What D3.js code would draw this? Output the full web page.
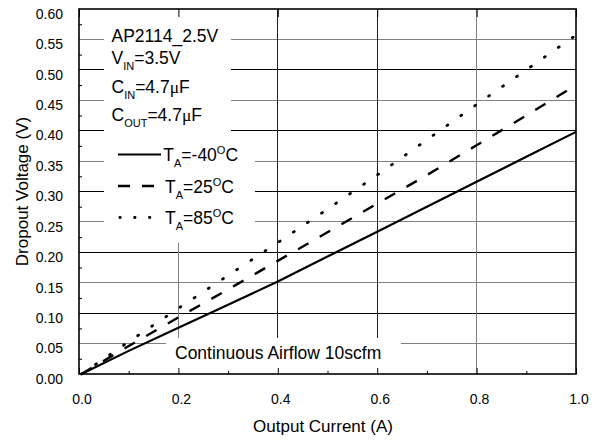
<!DOCTYPE html>
<html>
<head>
<meta charset="utf-8">
<script src="https://cdn.jsdelivr.net/npm/d3@7"></script>
<style>
  body { margin: 0; background: #fff; }
  svg { display: block; }
  text { font-family: "Liberation Sans", Arial, Helvetica, sans-serif; fill: #000; }
</style>
</head>
<body>
<svg id="chart" width="597" height="441"></svg>
<script>
// Output current (A) at which dropout voltage was measured
const current = [0.005, 0.1, 0.2, 0.3, 0.4, 0.5, 0.6, 0.7, 0.8, 0.9, 1.0];
// Dropout voltage (V) per ambient temperature
const dropoutMinus40 = [0.0, 0.038, 0.076, 0.114, 0.152, 0.193, 0.234, 0.275, 0.316, 0.357, 0.398];
const dropout25      = [0.0, 0.046, 0.093, 0.139, 0.186, 0.233, 0.280, 0.327, 0.376, 0.425, 0.475];
const dropout85      = [0.0, 0.053, 0.108, 0.162, 0.216, 0.271, 0.327, 0.385, 0.443, 0.500, 0.557];
const temperatures   = ["-40", "25", "85"];

const xTickValues = [0, 0.2, 0.4, 0.6, 0.8, 1.0];
const xMinorTicks = [0.1, 0.3, 0.5, 0.7, 0.9];
const yTickValues = [0, 0.05, 0.10, 0.15, 0.20, 0.25, 0.30, 0.35, 0.40, 0.45, 0.50, 0.55, 0.60];
const yMinorTicks = [0.025, 0.075, 0.125, 0.175, 0.225, 0.275, 0.325, 0.375, 0.425, 0.475, 0.525, 0.575];

const svg = d3.select("#chart");
const L = 79, R = 576, T = 9, B = 374;

const x = d3.scaleLinear().domain([0, 1.0]).range([L, R]);
const y = d3.scaleLinear().domain([0, 0.6]).range([B, T]);

// ---- grid ----
const grid = svg.append("g").attr("shape-rendering", "crispEdges");
grid.selectAll("line.h")
  .data(yTickValues.filter(v => v > 0 && v < 0.6))
  .join("line")
  .attr("x1", L).attr("x2", R)
  .attr("y1", d => y(d)).attr("y2", d => y(d))
  .attr("stroke", d => Math.round(d * 20) % 2 === 0 ? "#000" : "#808080")
  .attr("stroke-width", 1);
grid.selectAll("line.v")
  .data(xTickValues.filter(v => v > 0 && v < 1))
  .join("line")
  .attr("y1", T).attr("y2", B)
  .attr("x1", d => x(d)).attr("x2", d => x(d))
  .attr("stroke", d => (d > 0.3 && d < 0.7) ? "#222" : "#808080")
  .attr("stroke-width", 1);

// white panels behind the text blocks
const panels = svg.append("g").attr("fill", "#fff");
panels.append("rect").attr("x", 104).attr("y", T + 1).attr("width", 127).attr("height", 136);
panels.append("rect").attr("x", 104).attr("y", 140).attr("width", 151).attr("height", 103);
panels.append("rect").attr("x", 166).attr("y", 338).attr("width", 235).attr("height", B - 338);

// ---- axes ----
const fmtX = d3.format(".1f"), fmtY = d3.format(".2f");

const xAxis = svg.append("g").attr("transform", `translate(0,${B})`)
  .call(d3.axisBottom(x).tickValues(xTickValues).tickSize(-6).tickPadding(0).tickFormat(fmtX));
xAxis.select(".domain").remove();
xAxis.selectAll(".tick line").attr("stroke", "#000");
xAxis.selectAll(".tick text")
  .attr("y", 29.5).attr("dy", null).attr("dx", 2.5)
  .style("font-size", "14px").attr("fill", "#000")
  .style("font-family", "'Liberation Sans', Arial, sans-serif");

const xMinor = svg.append("g").attr("transform", `translate(0,${B})`)
  .call(d3.axisBottom(x).tickValues(xMinorTicks).tickSize(-3).tickFormat(""));
xMinor.select(".domain").remove();
xMinor.selectAll(".tick line").attr("stroke", "#000");

const xTop = svg.append("g").attr("transform", `translate(0,${T})`)
  .call(d3.axisTop(x).tickValues(xTickValues).tickSize(-8).tickFormat(""));
xTop.select(".domain").remove();
xTop.selectAll(".tick line").attr("stroke", "#000");

const yAxis = svg.append("g").attr("transform", `translate(${L},0)`)
  .call(d3.axisLeft(y).tickValues(yTickValues).tickSize(0).tickPadding(0).tickFormat(fmtY));
yAxis.select(".domain").remove();
yAxis.selectAll(".tick text")
  .attr("x", -16).attr("dy", null).attr("y", 9.3)
  .style("font-size", "14px").attr("fill", "#000")
  .style("font-family", "'Liberation Sans', Arial, sans-serif");

const yMinor = svg.append("g").attr("transform", `translate(${L},0)`)
  .call(d3.axisLeft(y).tickValues(yMinorTicks).tickSize(-3).tickFormat(""));
yMinor.select(".domain").remove();
yMinor.selectAll(".tick line").attr("stroke", "#000");

// plot frame
svg.append("rect")
  .attr("x", L).attr("y", T).attr("width", R - L).attr("height", B - T)
  .attr("fill", "none").attr("stroke", "#000").attr("stroke-width", 1.6);

// ---- curves ----
const styles = [
  { dash: null,      width: 2.2, cap: "butt",  legendDash: null },
  { dash: "12,13",   width: 2.4, cap: "butt",  legendDash: "12,12" },
  { dash: "1,16",    width: 2.8, cap: "round", legendDash: "0.5,14.3" }
];
const seriesValues = [dropoutMinus40, dropout25, dropout85];

const line = d3.line()
  .x(d => x(d[0]))
  .y(d => y(d[1]));

svg.append("g").selectAll("path")
  .data(seriesValues)
  .join("path")
  .attr("d", vals => line(current.map((c, i) => [c, vals[i]])))
  .attr("fill", "none")
  .attr("stroke", "#000")
  .attr("stroke-width", (d, i) => styles[i].width)
  .attr("stroke-linecap", (d, i) => styles[i].cap)
  .attr("stroke-dasharray", (d, i) => styles[i].dash);

// ---- conditions block ----
const info = svg.append("g").style("font-size", "17.5px");
info.append("text").attr("x", 111.5).attr("y", 41.5).text("AP2114_2.5V");

const vin = info.append("text").attr("x", 111.5).attr("y", 64);
vin.append("tspan").text("V");
vin.append("tspan").attr("dy", 6).style("font-size", "11px").text("IN");
vin.append("tspan").attr("dy", -6).text("=3.5V");

function capLine(sub, yPos) {
  const t = info.append("text").attr("x", 111.5).attr("y", yPos);
  t.append("tspan").text("C");
  t.append("tspan").attr("dy", 6).style("font-size", "11px").text(sub);
  t.append("tspan").attr("dy", -6).text("=4.7");
  t.append("tspan").style("font-family", "'Liberation Serif', 'Times New Roman', serif").text("\u03bc");
  t.append("tspan").text("F");
}
capLine("IN", 93);
capLine("OUT", 120.5);

// ---- legend ----
const legend = svg.append("g").style("font-size", "17.5px");
const legendRows = [161, 192.5, 224];
temperatures.forEach((temp, i) => {
  const base = legendRows[i];
  const lx1 = i === 2 ? 119.8 : 118;
  const lx2 = i === 0 ? 161 : (i === 1 ? 154 : 150);
  legend.append("line")
    .attr("x1", lx1).attr("x2", lx2)
    .attr("y1", base - 6.5).attr("y2", base - 6.5)
    .attr("stroke", "#000")
    .attr("stroke-width", styles[i].width)
    .attr("stroke-linecap", styles[i].cap)
    .attr("stroke-dasharray", styles[i].legendDash);
  const t = legend.append("text").attr("x", i === 0 ? 163.3 : 165).attr("y", base);
  t.append("tspan").text("T");
  t.append("tspan").attr("dy", 6).style("font-size", "11px").text("A");
  t.append("tspan").attr("dy", -6).text("=" + temp);
  t.append("tspan").attr("dy", -7).style("font-size", "11px").text("O");
  t.append("tspan").attr("dy", 7).text("C");
});

// airflow note
svg.append("text").attr("x", 175).attr("y", 359.3)
  .style("font-size", "17.5px").text("Continuous Airflow 10scfm");

// axis titles
svg.append("text").attr("x", 323).attr("y", 431.5)
  .attr("text-anchor", "middle").style("font-size", "17px").text("Output Current (A)");
svg.append("text")
  .attr("transform", "translate(28.3,191.5) rotate(-90)")
  .attr("text-anchor", "middle").style("font-size", "17px").text("Dropout Voltage (V)");
</script>
</body>
</html>
